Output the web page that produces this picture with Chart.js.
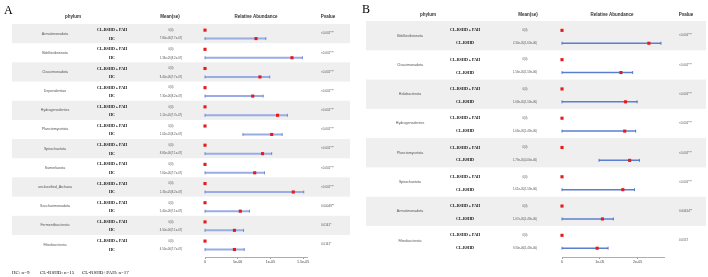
<!DOCTYPE html>
<html>
<head>
<meta charset="utf-8">
<script src="https://cdn.jsdelivr.net/npm/chart.js@4"></script>
<style>
html, body { margin: 0; padding: 0; background: #fff; }
body { width: 708px; height: 277px; position: relative; overflow: hidden; }
canvas { position: absolute; top: 0; }
#chartA { left: 0; }
#chartB { left: 355px; }
</style>
</head>
<body>
<canvas id="chartA" width="355" height="277"></canvas>
<canvas id="chartB" width="353" height="277"></canvas>
<script>
// Panel A: CL-RSHD + PAH vs HC
const phylaA = ["Armatimonadota", "Bdellovibrionota", "Cloacimonadota", "Dependentiae", "Hydrogenedentes",
    "Planctomycetota", "Spirochaetota", "Sumerlaeota", "unclassified_Archaea", "Saccharimonadota",
    "Fermentibacterota", "Fibrobacterota"]
const groupsA = ["CL-RSHD + PAH", "HC"]
const pahMeanA = [0, 0, 0, 0, 0, 0, 0, 0, 0, 0, 0, 0]
const hcMeanA = [7.8e-6, 1.33e-5, 8.4e-6, 7.3e-6, 1.11e-5, 1.02e-5, 8.8e-6, 7.6e-6, 1.35e-5, 5.4e-6, 4.5e-6, 4.5e-6]
const hcLowA = [0, 0, 0, 0, 0, 5.8e-6, 0, 0, 0, 0, 0, 0]
const hcHighA = [9.3e-6, 1.49e-5, 9.9e-6, 8.9e-6, 1.26e-5, 1.18e-5, 1.02e-5, 9.1e-6, 1.51e-5, 6.8e-6, 5.9e-6, 6.0e-6]
const pahTextA = ["0(0)", "0(0)", "0(0)", "0(0)", "0(0)", "0(0)", "0(0)", "0(0)", "0(0)", "0(0)", "0(0)", "0(0)"]
const hcTextA = ["7.80e-06(7.7e-07)", "1.33e-05(8.2e-07)", "8.40e-06(7.7e-07)", "7.30e-06(8.2e-07)",
    "1.11e-05(7.7e-07)", "1.02e-05(8.2e-07)", "8.80e-06(7.1e-07)", "7.60e-06(7.7e-07)",
    "1.35e-05(8.2e-07)", "5.40e-06(7.1e-07)", "4.50e-06(7.1e-07)", "4.50e-06(7.7e-07)"]
const pvalA = ["<0.001***", "<0.001***", "<0.001***", "<0.001***", "<0.001***", "<0.001***",
    "<0.001***", "<0.001***", "<0.001***", "0.00049**", "0.0141*", "0.0141*"]
const tickValsA = [0, 5e-6, 1e-5, 1.5e-5]
const tickLabelsA = ["0", "5e-06", "1e-05", "1.5e-05"]

// Panel B: CL-RSHD + PAH vs CL-RSHD
const phylaB = ["Bdellovibrionota", "Cloacimonadota", "Halobacterota", "Hydrogenedentes",
    "Planctomycetota", "Spirochaetota", "Armatimonadota", "Fibrobacterota"]
const groupsB = ["CL-RSHD + PAH", "CL-RSHD"]
const pahMeanB = [0, 0, 0, 0, 0, 0, 0, 0]
const rshdMeanB = [2.30e-5, 1.56e-5, 1.68e-5, 1.66e-5, 1.79e-5, 1.61e-5, 1.07e-5, 0.93e-5]
const rshdLowB = [0, 0, 0, 0, 0.98e-5, 0, 0, 0]
const rshdHighB = [2.62e-5, 1.87e-5, 1.99e-5, 1.95e-5, 2.05e-5, 1.92e-5, 1.36e-5, 1.22e-5]
const pahTextB = ["0(0)", "0(0)", "0(0)", "0(0)", "0(0)", "0(0)", "0(0)", "0(0)"]
const rshdTextB = ["2.30e-05(1.63e-06)", "1.56e-05(1.58e-06)", "1.68e-05(1.58e-06)", "1.66e-05(1.48e-06)",
    "1.79e-05(4.06e-06)", "1.61e-05(1.58e-06)", "1.07e-05(1.48e-06)", "9.30e-06(1.48e-06)"]
const pvalB = ["<0.001***", "<0.001***", "<0.001***", "<0.001***", "<0.001***", "<0.001***", "0.00614**", "0.0557"]
const tickValsB = [0, 1e-5, 2e-5]
const tickLabelsB = ["0", "1e-05", "2e-05"]

const footerLabels = ["HC: n=9", "CL-RSHD: n=15", "CL-RSHD+PAH: n=17"]

const ROW_TOP = 0.32
const ROW_BOTTOM = 0.76
const SANS = "'Liberation Sans', Arial, sans-serif"
const SERIF = "'Liberation Serif', 'Times New Roman', serif"

/**
 * Table text, shading and error bars around one forest plot
 */
function tablePlugin(p) {
    return {
        id: "table" + p.letter,
        beforeDraw(chart) {
            const ctx = chart.ctx
            const y = chart.scales.y
            ctx.save()
            ctx.fillStyle = "#efefef"
            p.phyla.forEach((_, i) => {
                if (i % 2 === 0) {
                    const y0 = y.getPixelForValue(i)
                    const y1 = y.getPixelForValue(i + 1)
                    ctx.fillRect(p.shadeLeft, y0, p.shadeRight - p.shadeLeft, y1 - y0)
                }
            })
            ctx.restore()
        },
        beforeDatasetsDraw(chart) {
            const ctx = chart.ctx
            const x = chart.scales.x
            const y = chart.scales.y
            ctx.save()
            p.low.forEach((lo, i) => {
                const yy = y.getPixelForValue(i + ROW_BOTTOM)
                const x0 = x.getPixelForValue(lo)
                const x1 = x.getPixelForValue(p.high[i])
                ctx.strokeStyle = p.barColor
                ctx.lineWidth = p.barWidth
                ctx.beginPath()
                ctx.moveTo(x0, yy)
                ctx.lineTo(x1, yy)
                ctx.stroke()
                ctx.strokeStyle = p.capColor
                ctx.lineWidth = 0.8
                ctx.beginPath()
                ctx.moveTo(x0, yy - 1.5)
                ctx.lineTo(x0, yy + 1.5)
                ctx.moveTo(x1, yy - 1.5)
                ctx.lineTo(x1, yy + 1.5)
                ctx.stroke()
            })
            ctx.restore()
        },
        afterDraw(chart) {
            const ctx = chart.ctx
            const y = chart.scales.y
            ctx.save()
            // panel letter
            ctx.fillStyle = "#000"
            ctx.textAlign = "left"
            ctx.textBaseline = "alphabetic"
            ctx.font = `12px ${SERIF}`
            ctx.fillText(p.letter, p.letterX, p.letterY)
            // header
            ctx.textAlign = "center"
            ctx.textBaseline = "middle"
            ctx.font = `bold 4.5px ${SANS}`
            ctx.fillStyle = "#333"
            ctx.fillText("phylum", p.cols.phylumHead, p.headY)
            ctx.fillText("Mean(se)", p.cols.meanHead, p.headY)
            ctx.fillText("Relative Abundance", p.cols.raHead, p.headY)
            ctx.fillText("Pvalue", p.cols.pHead, p.headY)
            p.phyla.forEach((name, i) => {
                const yc = y.getPixelForValue(i + 0.5)
                const yt = y.getPixelForValue(i + ROW_TOP)
                const yb = y.getPixelForValue(i + ROW_BOTTOM)
                ctx.textAlign = "center"
                ctx.font = `3.6px ${SANS}`
                ctx.fillStyle = "#555"
                ctx.fillText(name, p.cols.phylum, yc)
                ctx.font = `bold 4px ${SERIF}`
                ctx.fillStyle = "#111"
                ctx.fillText(p.groups[0], p.cols.group, yt)
                ctx.fillText(p.groups[1], p.cols.group, yb)
                ctx.font = `2.8px ${SANS}`
                ctx.fillStyle = "#555"
                ctx.fillText(p.topText[i], p.cols.mean, yt)
                ctx.fillText(p.bottomText[i], p.cols.mean, yb)
                ctx.textAlign = "left"
                ctx.font = `3px ${SANS}`
                ctx.fillText(p.pvals[i], p.cols.p, yc)
            })
            if (p.footer) {
                ctx.textAlign = "left"
                ctx.textBaseline = "middle"
                ctx.font = `5px ${SERIF}`
                ctx.fillStyle = "#111"
                p.footer.forEach((t, i) => ctx.fillText(t, p.footerX[i], p.footerY))
            }
            ctx.restore()
        }
    }
}

/**
 * Build one forest plot chart
 */
function makeChart(canvasId, p) {
    return new Chart(document.getElementById(canvasId), {
        type: "scatter",
        data: {
            datasets: [{
                data: p.topMean.map((v, i) => ({ x: v, y: i + ROW_TOP })),
                backgroundColor: "#e41a1c",
                borderWidth: 0,
                pointStyle: "rect",
                pointRadius: 2.2,
                clip: false
            }, {
                data: p.bottomMean.map((v, i) => ({ x: v, y: i + ROW_BOTTOM })),
                backgroundColor: "#e41a1c",
                borderWidth: 0,
                pointStyle: "rect",
                pointRadius: 2.2,
                clip: false
            }]
        },
        options: {
            responsive: false,
            animation: false,
            events: [],
            layout: { padding: p.padding },
            plugins: { legend: { display: false }, tooltip: { enabled: false } },
            scales: {
                x: {
                    type: "linear",
                    min: 0,
                    max: p.xMax,
                    afterBuildTicks: (s) => { s.ticks = p.tickVals.map((v) => ({ value: v })) },
                    afterFit: (s) => { s.height = 20 },
                    grid: { drawOnChartArea: false, drawTicks: true, tickLength: 2, color: "#999" },
                    border: { color: "#999", width: 0.8 },
                    ticks: {
                        font: { size: 3.6, family: SANS },
                        color: "#444",
                        padding: 1,
                        maxRotation: 0,
                        autoSkip: false,
                        callback: (v, i) => p.tickLabels[i]
                    }
                },
                y: { type: "linear", min: 0, max: p.yMax, reverse: true, display: false }
            }
        },
        plugins: [tablePlugin(p)]
    })
}

makeChart("chartA", {
    letter: "A", letterX: 4, letterY: 14,
    phyla: phylaA, groups: groupsA,
    topMean: pahMeanA, bottomMean: hcMeanA, low: hcLowA, high: hcHighA,
    topText: pahTextA, bottomText: hcTextA, pvals: pvalA,
    tickVals: tickValsA, tickLabels: tickLabelsA,
    xMax: 1.56e-5, yMax: 12.15,
    padding: { left: 205, right: 48, top: 24, bottom: 0 },
    shadeLeft: 12, shadeRight: 350,
    headY: 17,
    cols: { phylumHead: 73, meanHead: 170, raHead: 256, pHead: 328, phylum: 55, group: 112, mean: 171, p: 321 },
    barColor: "#98ace6", barWidth: 2, capColor: "#5a78c8",
    footer: footerLabels, footerX: [12, 40, 82], footerY: 273
})

makeChart("chartB", {
    letter: "B", letterX: 7, letterY: 13,
    phyla: phylaB, groups: groupsB,
    topMean: pahMeanB, bottomMean: rshdMeanB, low: rshdLowB, high: rshdHighB,
    topText: pahTextB, bottomText: rshdTextB, pvals: pvalB,
    tickVals: tickValsB, tickLabels: tickLabelsB,
    xMax: 2.7e-5, yMax: 8.06,
    padding: { left: 207, right: 44, top: 21, bottom: 0 },
    shadeLeft: 11, shadeRight: 351,
    headY: 15,
    cols: { phylumHead: 73, meanHead: 173, raHead: 257, pHead: 331, phylum: 55, group: 110, mean: 170, p: 324 },
    barColor: "#5b7fcf", barWidth: 1.5, capColor: "#3f63b8"
})
</script>
</body>
</html>
